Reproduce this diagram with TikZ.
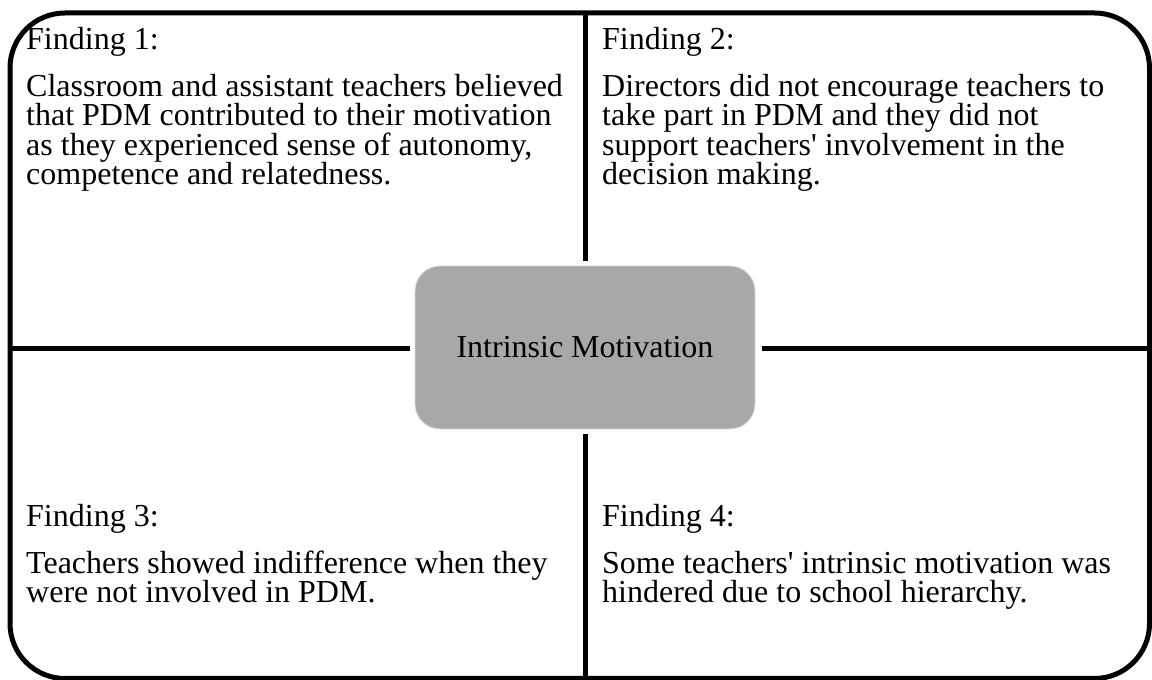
\documentclass[tikz,border=0pt]{standalone}
\usepackage{fontspec}
\setmainfont{Liberation Serif}
\usetikzlibrary{calc}
\definecolor{cgray}{HTML}{A8A8A8}

\begin{document}
\begin{tikzpicture}[x=1pt,y=1pt,
  font=\fontsize{32}{29.5}\selectfont,
  finding/.style={anchor=base west,align=left,inner sep=0pt},
  core/.style={rounded corners=25pt,draw=black!15,fill=cgray,line width=0.8pt,
               minimum width=340pt,minimum height=163pt},
  rule/.style={line width=4.5pt,black}]
  \useasboundingbox (0,0) rectangle (1152,680);
  % outer frame
  \draw[line width=5pt,rounded corners=55pt] (10,1.5) rectangle (1149.5,667);
  % central box
  \node[core] (core) at (585,332.5) {Intrinsic Motivation};
  % points on the frame where the rules start
  \coordinate (n) at (585.5,667);
  \coordinate (s) at (585.5,1.5);
  \coordinate (w) at (10,331.5);
  \coordinate (e) at (1149.5,331.5);
  \draw[rule,shorten >=4.5pt] (n) -- (n|-core.north);
  \draw[rule,shorten >=4.5pt] (s) -- (s|-core.south);
  \draw[rule,shorten >=5pt] (w) -- (w-|core.west);
  \draw[rule,shorten >=7pt] (e) -- (e-|core.east);
  % the four findings (base = last line)
  \node[finding] (f1) at (26,495) {Finding 1:\\[17.5pt]
    Classroom and assistant teachers believed\\
    that PDM contributed to their motivation\\
    as they experienced sense of autonomy,\\
    competence and relatedness.};
  \node[finding] (f2) at (602,495) {Finding 2:\\[17.5pt]
    Directors did not encourage teachers to\\
    take part in PDM and they did not\\
    support teachers\textquotesingle{} involvement in the\\
    decision making.};
  \node[finding] (f3) at (26,77) {Finding 3:\\[17.5pt]
    Teachers showed indifference when they\\
    were not involved in PDM.};
  \node[finding] (f4) at (602,77) {Finding 4:\\[17.5pt]
    Some teachers\textquotesingle{} intrinsic motivation was\\
    hindered due to school hierarchy.};
\end{tikzpicture}
\end{document}
